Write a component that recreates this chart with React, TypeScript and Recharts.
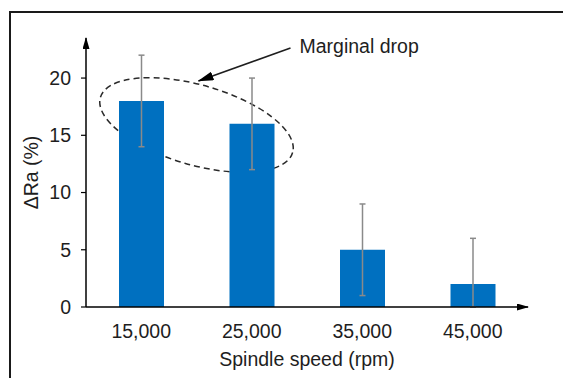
import { BarChart, Bar, XAxis, YAxis, ErrorBar, ReferenceArea, Label } from 'recharts'

const speeds = ['15,000', '25,000', '35,000', '45,000']
const deltaRa = [18, 16, 5, 2]
const errLow = [4, 4, 4, 2]
const errHigh = [4, 4, 4, 4]
const yTicks = [0, 5, 10, 15, 20]

const data = speeds.map((s, i) => ({ speed: s, ra: deltaRa[i], err: [errLow[i], errHigh[i]] }))

const FONT = '"Liberation Sans", Arial, Helvetica, sans-serif'
const INK = '#1e1e1e'
const BLUE = '#0070c0'
const FS = 19.5

// dashed ellipse + arrow + note, placed around the first two bars
function Callout(props: any) {
  const { x, y, width, height } = props
  const cx = x + width / 2
  const cy = y + height / 2
  return (
    <g>
      <ellipse
        cx={cx}
        cy={cy}
        rx={100}
        ry={40}
        transform={`rotate(16 ${cx} ${cy})`}
        fill="none"
        stroke="#2a2a2a"
        strokeWidth={1.5}
        strokeDasharray="6 4"
      />
      <line
        x1={cx + 94}
        y1={cy - 77}
        x2={cx + 2}
        y2={cy - 44}
        stroke={INK}
        strokeWidth={1.5}
        markerEnd="url(#noteArrow)"
      />
      <text x={cx + 103} y={cy - 72} fontSize={FS} fontFamily={FONT} fill={INK}>
        Marginal drop
      </text>
    </g>
  )
}

export default function App() {
  return (
    <div style={{ position: 'fixed', left: 0, top: 0, width: 563, height: 378, background: '#fff', overflow: 'hidden' }}>
      <div
        style={{
          position: 'absolute',
          left: 9,
          top: 11,
          right: -4,
          bottom: -4,
          borderLeft: '2px solid #1a1a1a',
          borderTop: '2px solid #1a1a1a',
        }}
      />
      <svg width={0} height={0} style={{ position: 'absolute' }}>
        <defs>
          <marker id="axisArrow" viewBox="0 0 12 7" refX={11} refY={3.5} markerWidth={12} markerHeight={7} markerUnits="userSpaceOnUse" orient="auto-start-reverse">
            <path d="M0,0 L12,3.5 L0,7 z" fill="#000" />
          </marker>
          <marker id="noteArrow" viewBox="0 0 16 9" refX={15} refY={4.5} markerWidth={16} markerHeight={9} markerUnits="userSpaceOnUse" orient="auto">
            <path d="M0,0 L16,4.5 L0,9 z" fill="#000" />
          </marker>
        </defs>
      </svg>
      <div style={{ position: 'absolute', left: 0, top: 0 }}>
        <BarChart
          width={563}
          height={378}
          data={data}
          margin={{ top: 38, right: 35, bottom: 9, left: 26 }}
          barSize={45}
        >
          <XAxis
            dataKey="speed"
            height={62}
            tickLine={false}
            tickSize={0}
            tickMargin={17}
            axisLine={{ stroke: '#000', strokeWidth: 1.5, markerEnd: 'url(#axisArrow)' } as any}
            tick={{ fontSize: FS, fontFamily: FONT, fill: INK }}
          >
            <Label value="Spindle speed (rpm)" position="center" dy={21} fontSize={FS} fontFamily={FONT} fill={INK} />
          </XAxis>
          <YAxis
            width={60}
            domain={[0, 23.5]}
            ticks={yTicks}
            allowDataOverflow
            tickSize={5}
            tickMargin={10}
            tickLine={{ stroke: '#000', strokeWidth: 1.2 }}
            axisLine={{ stroke: '#000', strokeWidth: 1.5, markerStart: 'url(#axisArrow)' } as any}
            tick={{ fontSize: FS, fontFamily: FONT, fill: INK }}
          >
            <Label value="ΔRa (%)" position="center" angle={-90} dx={-25} fontSize={FS} fontFamily={FONT} fill={INK} />
          </YAxis>
          <Bar dataKey="ra" fill={BLUE} isAnimationActive={false}>
            <ErrorBar dataKey="err" width={3} stroke="#8a8a8a" strokeWidth={1.5} direction="y" />
          </Bar>
          <ReferenceArea x1="15,000" x2="25,000" y1={12} y2={19.8} ifOverflow="visible" shape={(p: any) => <Callout {...p} />} />
        </BarChart>
      </div>
    </div>
  )
}
